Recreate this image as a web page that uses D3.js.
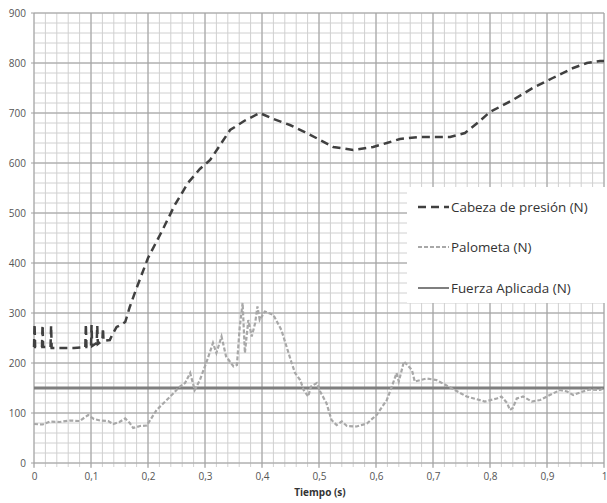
<!DOCTYPE html>
<html>
<head>
<meta charset="utf-8">
<script src="https://cdn.jsdelivr.net/npm/d3@7"></script>
<style>
  body { margin: 0; background: #fff; }
  text { font-family: "Open Sans", sans-serif; }
</style>
</head>
<body>
<div id="chart-area"></div>
<script>
// data
let xTicks = [0, 0.1, 0.2, 0.3, 0.4, 0.5, 0.6, 0.7, 0.8, 0.9, 1];
let yTicks = [0, 100, 200, 300, 400, 500, 600, 700, 800, 900];

let cabezaT = [0, 0.001, 0.002, 0.014, 0.015, 0.016, 0.029, 0.03, 0.031, 0.05, 0.07, 0.09, 0.091, 0.092, 0.1, 0.101, 0.102, 0.11, 0.111, 0.112, 0.12, 0.121, 0.122, 0.133, 0.138, 0.145, 0.152, 0.16, 0.168, 0.18, 0.2, 0.225, 0.247, 0.27, 0.291, 0.309, 0.33, 0.344, 0.37, 0.396, 0.42, 0.449, 0.475, 0.502, 0.525, 0.56, 0.595, 0.619, 0.642, 0.677, 0.73, 0.756, 0.78, 0.8, 0.84, 0.875, 0.91, 0.946, 0.97, 0.993, 1];
let cabezaV = [232, 278, 232, 232, 276, 232, 232, 275, 230, 230, 230, 232, 278, 232, 232, 276, 234, 240, 275, 238, 245, 270, 244, 246, 258, 272, 276, 282, 312, 350, 410, 465, 516, 560, 588, 606, 642, 666, 685, 700, 688, 676, 662, 646, 632, 626, 632, 640, 648, 652, 652, 660, 682, 702, 726, 750, 770, 790, 800, 804, 804];

let palT = [0, 0.015, 0.028, 0.045, 0.063, 0.08, 0.095, 0.105, 0.116, 0.13, 0.139, 0.15, 0.16, 0.168, 0.174, 0.186, 0.198, 0.215, 0.239, 0.256, 0.265, 0.274, 0.282, 0.291, 0.303, 0.314, 0.32, 0.329, 0.337, 0.35, 0.356, 0.361, 0.366, 0.37, 0.376, 0.382, 0.388, 0.392, 0.396, 0.405, 0.42, 0.434, 0.443, 0.452, 0.458, 0.467, 0.473, 0.481, 0.486, 0.496, 0.502, 0.513, 0.522, 0.531, 0.54, 0.549, 0.566, 0.584, 0.601, 0.619, 0.63, 0.636, 0.64, 0.649, 0.655, 0.663, 0.668, 0.689, 0.706, 0.73, 0.759, 0.791, 0.812, 0.82, 0.83, 0.835, 0.84, 0.847, 0.858, 0.873, 0.888, 0.905, 0.923, 0.935, 0.946, 0.963, 0.975, 0.993, 1];
let palV = [78, 77, 83, 82, 85, 84, 96, 88, 85, 84, 78, 82, 89, 80, 70, 74, 75, 106, 133, 153, 160, 180, 146, 166, 203, 240, 220, 253, 213, 193, 196, 273, 320, 220, 286, 253, 280, 313, 286, 303, 296, 266, 233, 200, 180, 166, 146, 133, 153, 160, 143, 120, 86, 76, 83, 74, 73, 79, 96, 126, 160, 180, 163, 203, 196, 186, 163, 169, 166, 151, 133, 123, 129, 133, 120, 106, 110, 129, 133, 123, 126, 136, 146, 143, 136, 143, 147, 146, 150];

let fuerzaT = [0, 1];
let fuerzaV = [150, 150];

let legendNames = ["Cabeza de presión (N)", "Palometa (N)", "Fuerza Aplicada (N)"];

// sizes
let W = 607, H = 503;
let m = {top: 13, left: 34, right: 3, bottom: 40};
let w = W - m.left - m.right;
let h = H - m.top - m.bottom;

let svg = d3.select("#chart-area")
    .append("svg")
    .attr("width", W)
    .attr("height", H);

let g = svg.append("g")
    .attr("transform", "translate(" + m.left + "," + m.top + ")");

let x = d3.scaleLinear().domain([0, 1]).range([0, w]);
let y = d3.scaleLinear().domain([0, 900]).range([h, 0]);

// minor grid
let minorX = d3.range(0, 1.0001, 0.02);
let minorY = d3.range(0, 900.1, 20);
g.selectAll(".mx").data(minorX).enter().append("line")
    .attr("x1", d => x(d)).attr("x2", d => x(d))
    .attr("y1", 0).attr("y2", h + 4)
    .attr("stroke", "#d0d0d0").attr("stroke-width", 1);
g.selectAll(".my").data(minorY).enter().append("line")
    .attr("x1", 0).attr("x2", w)
    .attr("y1", d => y(d)).attr("y2", d => y(d))
    .attr("stroke", "#d0d0d0").attr("stroke-width", 1);

// major grid
g.selectAll(".gx").data(xTicks).enter().append("line")
    .attr("x1", d => x(d)).attr("x2", d => x(d))
    .attr("y1", 0).attr("y2", h + 5)
    .attr("stroke", "#a0a0a0").attr("stroke-width", 1);
g.selectAll(".gy").data(yTicks).enter().append("line")
    .attr("x1", -3).attr("x2", w)
    .attr("y1", d => y(d)).attr("y2", d => y(d))
    .attr("stroke", "#a0a0a0").attr("stroke-width", 1);

// axes
let xAxisCall = d3.axisBottom(x)
    .tickValues(xTicks)
    .tickSize(0)
    .tickPadding(10)
    .tickFormat(d => String(d).replace(".", ","));
g.append("g")
    .attr("class", "x axis")
    .attr("transform", "translate(0," + h + ")")
    .call(xAxisCall);

let yAxisCall = d3.axisLeft(y)
    .tickValues(yTicks)
    .tickSize(0)
    .tickPadding(8);
g.append("g")
    .attr("class", "y axis")
    .call(yAxisCall);

g.selectAll(".axis .domain").remove();
g.selectAll(".axis text")
    .attr("font-size", "10px")
    .attr("fill", "#555");

// lines
let line = d3.line()
    .x(d => x(d[0]))
    .y(d => y(d[1]));

g.append("path")
    .datum(d3.zip(fuerzaT, fuerzaV))
    .attr("d", line)
    .attr("fill", "none")
    .attr("stroke", "#7f7f7f")
    .attr("stroke-width", 3);

g.append("path")
    .datum(d3.zip(palT, palV))
    .attr("d", line)
    .attr("fill", "none")
    .attr("stroke", "#a8a8a8")
    .attr("stroke-width", 2.2)
    .attr("stroke-dasharray", "4,2");

g.append("path")
    .datum(d3.zip(cabezaT, cabezaV))
    .attr("d", line)
    .attr("fill", "none")
    .attr("stroke", "#404040")
    .attr("stroke-width", 2.5)
    .attr("stroke-dasharray", "8,5");

// legend
let lg = svg.append("g");
lg.append("rect")
    .attr("x", 407).attr("y", 187)
    .attr("width", 200).attr("height", 116)
    .attr("fill", "#fff");

let legendStyle = [
  {stroke: "#404040", width: 2.5, dash: "8,5"},
  {stroke: "#a8a8a8", width: 2, dash: "4,2"},
  {stroke: "#7f7f7f", width: 2, dash: null}
];
let legendY = [207, 247, 288];

legendNames.forEach(function(name, i) {
  lg.append("line")
      .attr("x1", 418).attr("x2", 449)
      .attr("y1", legendY[i]).attr("y2", legendY[i])
      .attr("stroke", legendStyle[i].stroke)
      .attr("stroke-width", legendStyle[i].width)
      .attr("stroke-dasharray", legendStyle[i].dash);
  lg.append("text")
      .attr("x", 451)
      .attr("y", legendY[i] + 5)
      .attr("font-size", "13.4px")
      .attr("fill", "#333")
      .text(name);
});

// x label
svg.append("text")
    .attr("x", 320)
    .attr("y", 496)
    .attr("font-size", "10px")
    .attr("font-weight", "bold")
    .attr("text-anchor", "middle")
    .attr("fill", "#333")
    .text("Tiempo (s)");
</script>
</body>
</html>
